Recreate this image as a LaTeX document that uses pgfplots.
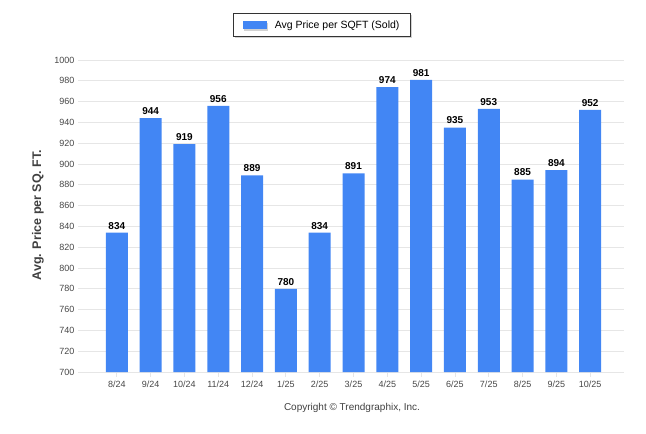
\documentclass[border=0pt]{standalone}
\usepackage{fontspec}
\setmainfont{Liberation Sans}
\usepackage{pgfplots}
\pgfplotsset{compat=1.18}
\usetikzlibrary{shadows}
\definecolor{barblue}{RGB}{66,134,244}
\definecolor{gridgray}{RGB}{230,230,230}
\definecolor{ticktxt}{RGB}{70,70,70}
\begin{document}
\begin{tikzpicture}[x=1bp,y=1bp]
\useasboundingbox (-83bp,-62bp) rectangle (563bp,372bp);
\begin{axis}[
    at={(0,0)}, anchor=south west,
    scale only axis,
    width=541bp, height=312bp,
    ybar, bar width=22bp,
    xmin=-1, xmax=15,
    ymin=700, ymax=1000,
    ytick distance=20,
    xtick=data,
    xticklabels={8/24,9/24,10/24,11/24,12/24,1/25,2/25,3/25,4/25,5/25,6/25,7/25,8/25,9/25,10/25},
    axis x line*=bottom,
    axis y line*=left,
    y axis line style={draw=none},
    ymajorgrids, grid style={gridgray, line width=0.8pt},
    x axis line style={gridgray, line width=0.8pt, -},
    tick style={gridgray, line width=0.8pt},
    tick align=outside, major tick length=5bp,
    ticklabel style={font=\fontsize{9bp}{10bp}\selectfont, text=ticktxt},
    /pgf/number format/assume math mode=true,
    /pgf/number format/set thousands separator={},
    nodes near coords,
    nodes near coords style={font=\bfseries\fontsize{10bp}{12bp}\selectfont, text=black},
    legend style={at={(0.442,1.112)}, anchor=center, draw=black!80, line width=0.8pt,
        drop shadow={shadow xshift=1.5bp, shadow yshift=-1.5bp, fill=black!35},
        fill=white, font=\fontsize{10.5bp}{12bp}\selectfont, inner xsep=9bp, inner ysep=5bp,
        /tikz/every odd column/.append style={column sep=6bp}},
    legend image code/.code={\fill[barblue] (0bp,-4bp) rectangle (24bp,4bp);},
    clip=false,
]
\addplot[fill=barblue, draw=none] coordinates {
(0,834) (1,944) (2,919) (3,956) (4,889) (5,780) (6,834) (7,891)
(8,974) (9,981) (10,935) (11,953) (12,885) (13,894) (14,952)};
\addlegendentry{Avg Price per SQFT (Sold)}
\end{axis}
\node[rotate=90, font=\bfseries\fontsize{12.5bp}{14bp}\selectfont, text=black!75] at (-45bp,157bp) {Avg. Price per SQ. FT.};
\node[font=\fontsize{10bp}{12bp}\selectfont, text=black!75] at (269bp,-36bp) {Copyright © Trendgraphix, Inc.};
\end{tikzpicture}
\end{document}
